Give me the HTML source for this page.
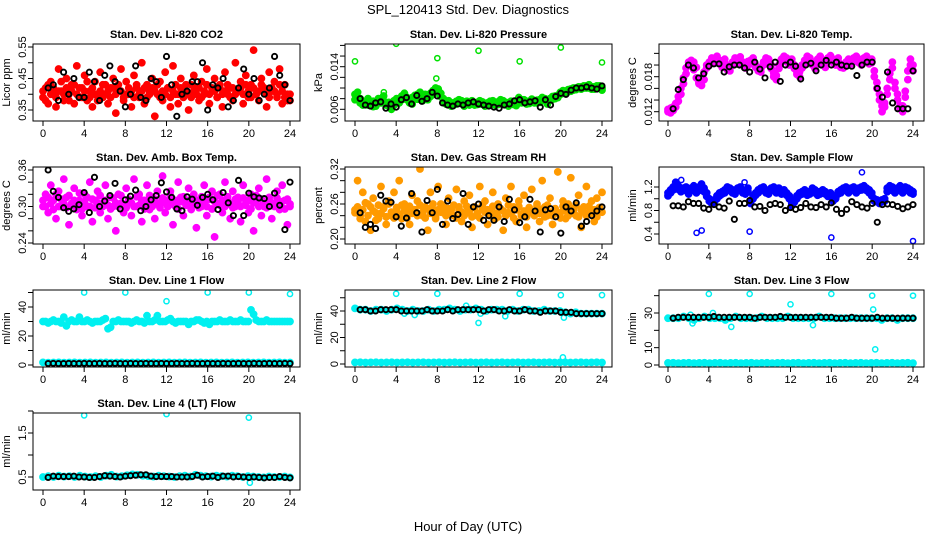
<!DOCTYPE html>
<html><head><meta charset="utf-8"><style>
body{margin:0;background:#fff}
svg{display:block;font-family:"Liberation Sans",sans-serif}
</style></head><body>
<svg id="chart" width="936" height="540" viewBox="0 0 936 540">
<text x="468" y="14" font-size="13" text-anchor="middle">SPL_120413  Std. Dev. Diagnostics</text>
<text x="468" y="531" font-size="13" text-anchor="middle">Hour of Day (UTC)</text>
</svg>
<script>
// ---- data ----
const xTicks=[0,4,8,12,16,20,24];
const co2Red=[0.39,0.42,0.37,0.44,0.40,0.36,0.48,0.41,0.38,0.45,0.40,0.43,0.37,0.49,0.42,0.39,0.46,0.38,0.41,0.36,0.44,0.40,0.47,0.39,0.43,0.37,0.42,0.45,0.34,0.41,0.48,0.38,0.44,0.40,0.36,0.46,0.42,0.39,0.50,0.37,0.43,0.41,0.45,0.33,0.40,0.44,0.38,0.47,0.42,0.36,0.49,0.40,0.37,0.45,0.41,0.43,0.35,0.39,0.46,0.42,0.38,0.44,0.40,0.48,0.37,0.41,0.45,0.39,0.43,0.36,0.47,0.40,0.42,0.38,0.50,0.41,0.44,0.37,0.46,0.39,0.43,0.54,0.40,0.38,0.45,0.42,0.36,0.47,0.41,0.44,0.39,0.48,0.37,0.43,0.40,0.38];
const co2Red2=[0.41,0.38,0.43,0.40,0.42,0.39,0.41,0.44,0.40,0.42,0.38,0.41,0.43,0.40,0.39,0.42,0.41,0.44,0.39,0.42,0.40,0.38,0.41,0.43,0.40,0.41,0.39,0.42,0.40,0.43,0.41,0.39,0.40,0.42,0.41,0.39,0.43,0.40,0.41,0.42,0.39,0.40,0.42,0.41,0.43,0.39,0.41,0.40,0.42,0.39,0.41,0.43,0.40,0.42,0.39,0.41,0.40,0.43,0.41,0.40,0.42,0.39,0.41,0.43,0.40,0.42,0.41,0.39,0.42,0.40,0.41,0.43,0.39,0.42,0.40,0.41,0.42,0.40,0.43,0.41,0.39,0.42,0.40,0.41,0.43,0.42,0.40,0.39,0.42,0.41,0.40,0.43,0.41,0.39,0.38,0.40];
const co2Black=[0.42,0.43,0.38,0.47,0.40,0.45,0.39,0.39,0.47,0.44,0.38,0.46,0.49,0.44,0.41,0.36,0.40,0.49,0.39,0.38,0.45,0.44,0.39,0.52,0.43,0.33,0.40,0.41,0.44,0.44,0.50,0.35,0.43,0.42,0.45,0.36,0.38,0.42,0.48,0.40,0.45,0.38,0.40,0.42,0.52,0.46,0.43,0.38];
const presGreen=[0.0088,0.0092,0.0080,0.0075,0.0070,0.0068,0.0072,0.0065,0.0070,0.0074,0.0079,0.0085,0.0072,0.0066,0.0060,0.0068,
0.0072,0.0078,0.0085,0.0090,0.0082,0.0076,0.0070,0.0080,0.0088,0.0092,0.0085,0.0079,0.0083,0.0090,0.0095,0.0100,
0.0098,0.0090,0.0080,0.0074,0.0070,0.0072,0.0068,0.0075,0.0078,0.0072,0.0066,0.0070,0.0074,0.0071,0.0068,0.0073,
0.0076,0.0070,0.0066,0.0072,0.0075,0.0070,0.0068,0.0074,0.0078,0.0072,0.0069,0.0066,0.0070,0.0073,0.0067,0.0082,
0.0078,0.0073,0.0070,0.0075,0.0079,0.0076,0.0072,0.0078,0.0082,0.0076,0.0070,0.0080,0.0084,0.0080,0.0086,0.0092,
0.0095,0.0090,0.0093,0.0098,0.0096,0.0100,0.0102,0.0098,0.0104,0.0100,0.0106,0.0102,0.0098,0.0104,0.0100,0.0096];
const presGreen2=[0.0078,0.0082,0.0072,0.0068,0.0074,0.0080,0.0070,0.0075,0.0066,0.0080,0.0072,0.0076,0.0068,0.0073,0.0070,0.0076,
0.0080,0.0072,0.0078,0.0084,0.0078,0.0072,0.0082,0.0086,0.0079,0.0083,0.0076,0.0088,0.0078,0.0084,0.0088,0.0092,
0.0090,0.0084,0.0076,0.0070,0.0076,0.0066,0.0072,0.0070,0.0073,0.0076,0.0070,0.0075,0.0068,0.0076,0.0072,0.0069,
0.0070,0.0074,0.0071,0.0068,0.0070,0.0076,0.0072,0.0069,0.0072,0.0076,0.0073,0.0071,0.0075,0.0069,0.0073,0.0076,
0.0072,0.0078,0.0075,0.0071,0.0074,0.0072,0.0077,0.0073,0.0076,0.0080,0.0074,0.0077,0.0079,0.0085,0.0082,0.0088,
0.0090,0.0094,0.0097,0.0094,0.0100,0.0097,0.0099,0.0102,0.0100,0.0104,0.0100,0.0098,0.0102,0.0099,0.0104,0.0100];
const presOutX=[0,4,8,12,16,20,24,2.8,7.9];
const presOutY=[0.0150,0.0183,0.0156,0.0170,0.0150,0.0176,0.0148,0.0092,0.0118];
const presBlack=[0.0080,0.0068,0.0066,0.0072,0.0074,0.0062,0.0070,0.0064,0.0078,0.0082,0.0070,0.0086,0.0075,0.0080,0.0092,0.0085,0.0072,0.0068,0.0066,0.0070,0.0068,0.0072,0.0074,0.0070,0.0068,0.0066,0.0064,0.0062,0.0068,0.0070,0.0076,0.0078,0.0072,0.0074,0.0076,0.0064,0.0078,0.0068,0.0084,0.0090,0.0088,0.0096,0.0100,0.0100,0.0102,0.0100,0.0098,0.0104];
const tempMag=[0.0120,0.0118,0.0122,0.0128,0.0138,0.0150,0.0168,0.0185,
0.0200,0.0208,0.0205,0.0196,0.0170,0.0165,0.0175,0.0195,
0.0205,0.0212,0.0210,0.0215,0.0208,0.0200,0.0210,0.0198,0.0190,0.0205,0.0212,0.0208,0.0214,0.0205,0.0195,0.0200,
0.0208,0.0212,0.0200,0.0195,0.0188,0.0205,0.0212,0.0210,0.0200,0.0180,0.0175,0.0200,0.0210,0.0215,0.0212,0.0205,
0.0210,0.0200,0.0188,0.0180,0.0195,0.0208,0.0215,0.0212,0.0205,0.0198,0.0210,0.0215,0.0208,0.0200,0.0212,0.0216,
0.0210,0.0205,0.0212,0.0200,0.0195,0.0205,0.0210,0.0208,0.0212,0.0215,0.0210,0.0205,0.0212,0.0215,0.0208,0.0210,
0.0190,0.0170,0.0140,0.0120,0.0128,0.0150,0.0185,0.0205,0.0160,0.0150,0.0130,0.0120,0.0145,0.0175,0.0210,0.0200];
const tempMag2=[0.0124,0.0126,0.0128,0.0134,0.0146,0.0160,0.0178,0.0195,
0.0205,0.0200,0.0192,0.0178,0.0168,0.0172,0.0188,0.0200,
0.0200,0.0206,0.0204,0.0208,0.0202,0.0196,0.0204,0.0192,0.0196,0.0200,0.0206,0.0202,0.0208,0.0200,0.0200,0.0206,
0.0202,0.0206,0.0196,0.0190,0.0194,0.0200,0.0206,0.0204,0.0194,0.0186,0.0182,0.0194,0.0204,0.0208,0.0206,0.0200,
0.0204,0.0194,0.0184,0.0188,0.0200,0.0202,0.0208,0.0206,0.0200,0.0194,0.0204,0.0208,0.0202,0.0196,0.0206,0.0210,
0.0204,0.0200,0.0206,0.0196,0.0200,0.0200,0.0204,0.0202,0.0206,0.0208,0.0204,0.0200,0.0206,0.0208,0.0202,0.0204,
0.0180,0.0160,0.0150,0.0130,0.0135,0.0160,0.0175,0.0195,0.0170,0.0140,0.0125,0.0130,0.0155,0.0190,0.0200,0.0190];
const tempBlack=[0.0125,0.0158,0.0175,0.0200,0.0195,0.0178,0.0185,0.0198,0.0202,0.0202,0.0188,0.0197,0.0200,0.0200,0.0195,0.0188,0.0205,0.0193,0.0178,0.0197,0.0205,0.0172,0.0200,0.0205,0.0198,0.0176,0.0200,0.0203,0.0190,0.0200,0.0208,0.0200,0.0205,0.0200,0.0198,0.0198,0.0182,0.0200,0.0205,0.0205,0.0160,0.0145,0.0188,0.0135,0.0125,0.0125,0.0125,0.0190];
const boxMag=[0.300,0.320,0.290,0.335,0.310,0.280,0.325,0.300,0.345,0.315,0.270,0.305,0.330,0.295,0.310,0.285,0.320,0.300,0.340,0.275,0.310,0.325,0.290,0.305,0.335,0.280,0.315,0.300,0.260,0.320,0.305,0.290,0.330,0.310,0.285,0.345,0.300,0.320,0.275,0.310,0.335,0.295,0.315,0.280,0.325,0.305,0.350,0.290,0.310,0.325,0.270,0.300,0.340,0.315,0.285,0.305,0.330,0.295,0.320,0.265,0.310,0.300,0.335,0.285,0.315,0.325,0.250,0.305,0.320,0.290,0.340,0.310,0.280,0.325,0.300,0.315,0.275,0.335,0.305,0.290,0.320,0.260,0.310,0.330,0.285,0.300,0.345,0.315,0.280,0.305,0.325,0.295,0.335,0.310,0.270,0.300];
const boxMag2=[0.310,0.300,0.315,0.305,0.295,0.320,0.300,0.312,0.305,0.298,0.318,0.302,0.310,0.300,0.322,0.296,0.308,0.315,0.300,0.312,0.298,0.306,0.318,0.300,0.310,0.302,0.296,0.314,0.306,0.300,0.318,0.304,0.298,0.312,0.306,0.300,0.316,0.302,0.310,0.296,0.306,0.318,0.300,0.312,0.304,0.298,0.314,0.306,0.300,0.318,0.304,0.310,0.296,0.308,0.316,0.302,0.310,0.300,0.314,0.304,0.298,0.316,0.306,0.300,0.312,0.296,0.308,0.318,0.302,0.310,0.300,0.316,0.304,0.298,0.312,0.306,0.300,0.314,0.302,0.310,0.296,0.306,0.318,0.300,0.312,0.304,0.298,0.310,0.304,0.300,0.314,0.302,0.308,0.296,0.312,0.304];
const boxBlack=[0.360,0.325,0.315,0.298,0.292,0.296,0.303,0.323,0.290,0.348,0.300,0.309,0.318,0.338,0.296,0.311,0.317,0.327,0.293,0.300,0.311,0.318,0.339,0.324,0.315,0.296,0.293,0.316,0.312,0.302,0.315,0.320,0.311,0.295,0.323,0.306,0.285,0.343,0.285,0.322,0.316,0.314,0.313,0.300,0.322,0.302,0.262,0.340];
const rhOrange=[0.250,0.300,0.240,0.280,0.230,0.260,0.215,0.270,0.245,0.235,0.290,0.255,0.225,0.265,0.240,0.280,0.250,0.300,0.235,0.260,0.245,0.225,0.275,0.250,0.265,0.320,0.240,0.255,0.215,0.280,0.250,0.235,0.290,0.260,0.245,0.225,0.270,0.250,0.240,0.285,0.255,0.230,0.265,0.245,0.275,0.220,0.255,0.240,0.290,0.250,0.265,0.225,0.245,0.280,0.235,0.260,0.250,0.215,0.270,0.245,0.290,0.255,0.230,0.265,0.240,0.275,0.220,0.250,0.285,0.245,0.260,0.230,0.300,0.255,0.240,0.270,0.225,0.250,0.315,0.245,0.265,0.235,0.260,0.305,0.250,0.240,0.275,0.220,0.255,0.290,0.245,0.265,0.230,0.270,0.250,0.280];
const rhOrange2=[0.245,0.255,0.235,0.250,0.262,0.240,0.255,0.248,0.232,0.258,0.244,0.252,0.238,0.260,0.246,0.236,0.254,0.242,0.258,0.248,0.236,0.256,0.244,0.250,0.240,0.258,0.246,0.236,0.252,0.244,0.260,0.238,0.250,0.246,0.256,0.240,0.252,0.244,0.258,0.236,0.250,0.246,0.240,0.256,0.248,0.238,0.254,0.244,0.236,0.258,0.246,0.250,0.240,0.256,0.244,0.238,0.252,0.248,0.240,0.258,0.244,0.236,0.250,0.256,0.242,0.248,0.238,0.254,0.246,0.240,0.256,0.244,0.250,0.238,0.258,0.246,0.240,0.252,0.244,0.236,0.256,0.248,0.240,0.252,0.244,0.258,0.238,0.250,0.246,0.240,0.256,0.244,0.250,0.238,0.254,0.246];
const rhBlack=[0.245,0.220,0.225,0.218,0.275,0.265,0.263,0.238,0.222,0.236,0.278,0.245,0.212,0.266,0.245,0.285,0.225,0.265,0.235,0.242,0.278,0.225,0.255,0.260,0.232,0.240,0.232,0.255,0.230,0.268,0.250,0.228,0.238,0.268,0.248,0.212,0.250,0.252,0.238,0.210,0.255,0.248,0.262,0.222,0.230,0.240,0.248,0.255];
const flowBlue=[1.05,1.15,1.20,1.28,1.22,1.15,1.18,1.20,1.12,1.18,1.22,1.15,1.20,1.25,1.18,1.10,
1.00,0.95,0.98,1.05,1.10,1.12,1.15,1.20,1.18,1.15,1.12,1.18,1.20,1.15,1.12,1.18,
0.95,1.05,1.10,1.15,1.18,1.20,1.15,1.12,1.18,1.20,1.15,1.18,1.12,1.15,1.10,1.05,
0.92,0.98,1.05,1.10,1.12,1.15,1.10,1.12,1.18,1.15,1.10,1.12,1.15,1.12,1.08,1.10,
1.00,1.05,1.12,1.15,1.18,1.20,1.15,1.18,1.20,1.15,1.18,1.20,1.22,1.18,1.15,1.10,
1.00,0.98,0.95,0.98,1.00,1.18,1.22,1.20,1.15,1.18,1.22,1.15,1.20,1.18,1.15,1.12];
const flowBlue2=[1.10,1.10,1.15,1.20,1.16,1.12,1.14,1.16,1.08,1.14,1.16,1.10,1.14,1.18,1.12,1.04,
0.96,0.92,0.95,1.00,1.05,1.08,1.10,1.15,1.14,1.10,1.08,1.14,1.15,1.10,1.08,1.12,
0.92,1.00,1.06,1.10,1.14,1.15,1.10,1.08,1.14,1.15,1.10,1.14,1.08,1.10,1.06,1.00,
0.88,0.94,1.00,1.06,1.08,1.10,1.06,1.08,1.14,1.10,1.06,1.08,1.10,1.08,1.04,1.05,
0.96,1.00,1.08,1.10,1.14,1.15,1.10,1.14,1.15,1.10,1.14,1.15,1.16,1.14,1.10,1.05,
0.96,0.95,0.92,0.95,0.96,1.12,1.16,1.14,1.10,1.14,1.16,1.10,1.15,1.14,1.10,1.08];
const flowOutX=[1.3,2.8,3.3,7.5,8,16,19,24];
const flowOutY=[1.32,0.42,0.46,1.28,0.44,0.34,1.45,0.28];
const flowBlack=[0.88,0.88,0.86,0.95,0.92,0.92,0.84,0.82,0.90,0.86,0.84,0.96,0.65,0.92,0.92,0.97,0.86,0.87,0.80,0.90,0.92,0.90,0.80,0.85,0.82,0.85,0.92,0.86,0.85,0.90,0.86,0.93,0.82,0.75,0.82,0.95,0.90,0.86,0.84,0.92,0.60,0.90,0.91,0.90,0.87,0.83,0.86,0.90];
const l1Cyan=[30,30,29,30,31,30,30,29,33,27,30,31,30,30,33,30,30,31,30,29,30,30,30,31,32,25,26,30,30,31,30,30,30,30,29,30,31,30,30,29,34,30,30,31,34,30,30,30,31,32,30,29,30,30,30,30,28,30,30,31,31,30,29,30,28,30,30,30,31,30,30,30,31,30,30,30,31,30,30,30,38,35,31,30,30,30,31,30,30,30,30,30,30,30,30,30];
const l1CyanLow=[1.8,1.6,1.7,1.8,1.6,1.7,1.8,1.6,1.7,1.8,1.6,1.7,1.8,1.6,1.7,1.8,1.6,1.7,1.8,1.6,1.7,1.8,1.6,1.7,1.8,1.6,1.7,1.8,1.6,1.7,1.8,1.6,1.7,1.8,1.6,1.7,1.8,1.6,1.7,1.8,1.6,1.7,1.8,1.6,1.7,1.8,1.6,1.7];
const l1OutX=[4,8,12,16,20,24];
const l1OutY=[50,50,44,50,50,49];
const l1Black=[1.0,1.1,1.0,1.0,1.1,1.0,1.0,1.1,1.0,1.0,1.1,1.0,1.0,1.1,1.0,1.0,1.1,1.0,1.0,1.1,1.0,1.0,1.1,1.0,1.0,1.1,1.0,1.0,1.1,1.0,1.0,1.1,1.0,1.0,1.1,1.0,1.0,1.1,1.0,1.0,1.1,1.0,1.0,1.1,1.0,1.0,1.1,1.0];
const l2Cyan=[42,41,41,40,41,41,40,41,42,41,40,41,40,40,41,40,41,41,42,41,40,41,41,42,41,40,41,41,41,40,41,40,41,41,40,40,41,40,40,40,39,38,39,38,38,38,38,38];
const l2CyanLow=[1.2,1.3,1.1,1.2,1.3,1.1,1.2,1.3,1.1,1.2,1.3,1.1,1.2,1.3,1.1,1.2,1.3,1.1,1.2,1.3,1.1,1.2,1.3,1.1,1.2,1.3,1.1,1.2,1.3,1.1,1.2,1.3,1.1,1.2,1.3,1.1,1.2,1.3,1.1,1.2,1.3,1.1,1.2,1.3,1.1,1.2,1.3,1.1];
const l2OutX=[0,4,8,12,16,20,20.2,24,12.2,4.8,5.8,14.6,10.8,20.3];
const l2OutY=[42,53,53,31,53,52,5,52,38,38,37,36,44,35];
const l2Black=[41,41,40,40,41,41,41,41,40,40,40,40,40,41,40,40,40,41,40,41,41,41,41,41,40,41,41,40,40,41,40,40,41,40,40,39,40,40,40,39,39,39,38,38,38,38,38,38];
const l3Cyan=[27,27,27,28,27,26,27,28,27,27,27,26,27,28,27,27,27,27,28,27,27,27,27,28,27,27,27,27,27,28,27,27,27,27,27,27,27,27,27,27,27,26,27,27,26,27,27,27];
const l3CyanLow=[1.2,1.3,1.1,1.2,1.3,1.1,1.2,1.3,1.1,1.2,1.3,1.1,1.2,1.3,1.1,1.2,1.3,1.1,1.2,1.3,1.1,1.2,1.3,1.1,1.2,1.3,1.1,1.2,1.3,1.1,1.2,1.3,1.1,1.2,1.3,1.1,1.2,1.3,1.1,1.2,1.3,1.1,1.2,1.3,1.1,1.2,1.3,1.1];
const l3OutX=[4,8,12,16,20,24,20.1,20.3,2.2,4.4,6.2,14.2,2.4];
const l3OutY=[41,41,35,41,40,40,32,9,29,30,22,23,24];
const l3Black=[27,27.5,27.5,27.5,27.5,27.5,27.5,27.5,28,27.5,27.5,27.5,27.5,27.5,27.5,27.5,27,27.5,27.5,27.5,27.5,28,27.5,27.5,27.5,27.5,27.5,27.5,27.5,27.5,27.5,27.5,27,27,27,27.5,27,27,27,27,27.5,27,27,27,27,27,27,27];
const l4Cyan=[0.50,0.52,0.50,0.53,0.51,0.52,0.50,0.53,0.51,0.50,0.52,0.50,0.53,0.55,0.51,0.52,0.54,0.56,0.55,0.53,0.52,0.51,0.53,0.52,0.51,0.50,0.52,0.53,0.51,0.55,0.53,0.52,0.51,0.53,0.52,0.51,0.53,0.52,0.50,0.52,0.51,0.50,0.49,0.51,0.50,0.50,0.51,0.49];
const l4OutX=[4,12,20,20.1];
const l4OutY=[1.9,1.93,1.85,0.37];
const l4Black=[0.49,0.52,0.51,0.51,0.51,0.52,0.50,0.50,0.49,0.49,0.51,0.53,0.52,0.51,0.50,0.52,0.53,0.54,0.55,0.55,0.52,0.51,0.51,0.51,0.51,0.50,0.50,0.50,0.51,0.54,0.50,0.51,0.52,0.49,0.52,0.52,0.50,0.51,0.50,0.49,0.50,0.49,0.48,0.49,0.49,0.51,0.49,0.48];

// ---- layout ----
const colL=[33,345,659], colR=[300,612,924], col0=[43,355,668], col24=[290,602,913];
const rowT=[44,167,290,413], rowB=[121,244,367,490];
const panels=[
 {id:'co2',title:'Stan. Dev. Li-820 CO2',ylab:'Licor ppm',c:0,r:0,a:[0.35,110],b:[0.55,47],ticks:[0.35,0.40,0.45,0.50,0.55],labs:['0.35','0.45','0.55'],labV:[0.35,0.45,0.55],
  series:[{v:co2Red2,col:'#ff0000'},{v:co2Red,col:'#ff0000'}],out:[],blk:co2Black},
 {id:'pressure',title:'Stan. Dev. Li-820 Pressure',ylab:'kPa',c:1,r:0,a:[0.006,109.3],b:[0.014,66.7],ticks:[0.006,0.008,0.010,0.012,0.014,0.016,0.018],labs:['0.006','0.014'],labV:[0.006,0.014],
  series:[{v:presGreen,col:'#00e000'},{v:presGreen2,col:'#00e000'}],out:[{x:presOutX,y:presOutY,col:'#00e000'}],blk:presBlack},
 {id:'temp',title:'Stan. Dev. Li-820 Temp.',ylab:'degrees C',c:2,r:0,a:[0.012,111.7],b:[0.018,76.7],ticks:[0.012,0.014,0.016,0.018,0.020,0.022],labs:['0.012','0.018'],labV:[0.012,0.018],
  series:[{v:tempMag,col:'#ff00ff'},{v:tempMag2,col:'#ff00ff'}],out:[],blk:tempBlack},
 {id:'ambbox',title:'Stan. Dev. Amb. Box Temp.',ylab:'degrees C',c:0,r:1,a:[0.24,243],b:[0.36,170],ticks:[0.24,0.26,0.28,0.30,0.32,0.34,0.36],labs:['0.24','0.30','0.36'],labV:[0.24,0.30,0.36],
  series:[{v:boxMag2,col:'#ff00ff'},{v:boxMag,col:'#ff00ff'}],out:[],blk:boxBlack},
 {id:'rh',title:'Stan. Dev. Gas Stream RH',ylab:'percent',c:1,r:1,a:[0.20,239],b:[0.32,169],ticks:[0.20,0.22,0.24,0.26,0.28,0.30,0.32],labs:['0.20','0.26','0.32'],labV:[0.20,0.26,0.32],
  series:[{v:rhOrange2,col:'#ff9a00'},{v:rhOrange,col:'#ff9a00'}],out:[],blk:rhBlack},
 {id:'sampleflow',title:'Stan. Dev. Sample Flow',ylab:'ml/min',c:2,r:1,a:[0.4,234],b:[1.2,187],ticks:[0.4,0.6,0.8,1.0,1.2],labs:['0.4','0.8','1.2'],labV:[0.4,0.8,1.2],
  series:[{v:flowBlue,col:'#0000ff'},{v:flowBlue2,col:'#0000ff'}],out:[{x:flowOutX,y:flowOutY,col:'#0000ff'}],blk:flowBlack},
 {id:'line1',title:'Stan. Dev. Line 1 Flow',ylab:'ml/min',c:0,r:2,a:[0,365],b:[40,307],ticks:[0,10,20,30,40,50],labs:['0','20','40'],labV:[0,20,40],
  series:[{v:l1Cyan,col:'#00f0f0'},{v:l1CyanLow,col:'#00f0f0'}],out:[{x:l1OutX,y:l1OutY,col:'#00f0f0'}],blk:l1Black},
 {id:'line2',title:'Stan. Dev. Line 2 Flow',ylab:'ml/min',c:1,r:2,a:[0,364],b:[40,311],ticks:[0,10,20,30,40,50],labs:['0','20','40'],labV:[0,20,40],
  series:[{v:l2Cyan,col:'#00f0f0'},{v:l2CyanLow,col:'#00f0f0'}],out:[{x:l2OutX,y:l2OutY,col:'#00f0f0'}],blk:l2Black},
 {id:'line3',title:'Stan. Dev. Line 3 Flow',ylab:'ml/min',c:2,r:2,a:[0,365],b:[30,313],ticks:[0,10,20,30,40],labs:['0','10','30'],labV:[0,10,30],
  series:[{v:l3Cyan,col:'#00f0f0'},{v:l3CyanLow,col:'#00f0f0'}],out:[{x:l3OutX,y:l3OutY,col:'#00f0f0'}],blk:l3Black},
 {id:'line4',title:'Stan. Dev. Line 4 (LT) Flow',ylab:'ml/min',c:0,r:3,a:[0.5,477],b:[1.5,433],ticks:[0.5,1.0,1.5,2.0],labs:['0.5','1.5'],labV:[0.5,1.5],
  series:[{v:l4Cyan,col:'#00f0f0'}],out:[{x:l4OutX,y:l4OutY,col:'#00f0f0'}],blk:l4Black}
];

const NS='http://www.w3.org/2000/svg';
const svg=document.getElementById('chart');
function mk(tag,attrs,parent){const e=document.createElementNS(NS,tag);for(const k in attrs)e.setAttribute(k,attrs[k]);parent.appendChild(e);return e;}

panels.forEach(p=>{
  const L=colL[p.c],R=colR[p.c],T=rowT[p.r],B=rowB[p.r];
  const xs=h=>col0[p.c]+h*(col24[p.c]-col0[p.c])/24;
  const ys=v=>p.a[1]+(v-p.a[0])*(p.b[1]-p.a[1])/(p.b[0]-p.a[0]);
  const g=mk('g',{},svg);
  
  
  const t=mk('text',{x:(L+R)/2,y:T-6,'font-size':11,'font-weight':'bold','text-anchor':'middle'},g);
  t.textContent=p.title;
  
  
  const clipId='clip-'+p.id;
  const cp=mk('clipPath',{id:clipId},g);
  mk('rect',{x:L,y:T,width:R-L,height:B-T},cp);
  const pts=mk('g',{'clip-path':'url(#'+clipId+')'},g);
  
  
  p.series.forEach(s=>{
    const n=s.v.length;
    s.v.forEach((v,i)=>{
      const c=mk('circle',{cx:xs(i*24/(n-1)),cy:ys(v),r:3,stroke:s.col,'stroke-width':1.8,fill:s.col},pts);
      
      
    });
  });
  p.out.forEach(o=>{
    o.x.forEach((x,i)=>{
      const c=mk('circle',{cx:xs(x),cy:ys(o.y[i]),r:2.6,stroke:o.col,'stroke-width':1.5,fill:'none'},pts);
      
      
    });
  });
  p.blk.forEach((v,i)=>{
    const c=mk('circle',{cx:xs(0.5+i*0.5),cy:ys(v),r:2.6,stroke:'#000','stroke-width':1.9,fill:'none'},pts);
    
    
  });
  const box=mk('rect',{x:L,y:T,width:R-L,height:B-T,fill:'none',stroke:'#000','stroke-width':1},g);
  
  
  const xa=mk('g',{stroke:'#000','stroke-width':1},g);
  
  
  mk('line',{x1:xs(0),x2:xs(24),y1:B,y2:B},xa);
  xTicks.forEach(h=>{
    mk('line',{x1:xs(h),x2:xs(h),y1:B,y2:B+5},xa);
    const tl=mk('text',{x:xs(h),y:B+16,'font-size':11,'text-anchor':'middle',stroke:'none',fill:'#000'},xa);
    tl.textContent=h;
    
    
  });
  const ya=mk('g',{stroke:'#000','stroke-width':1},g);
  
  
  mk('line',{x1:L,x2:L,y1:ys(p.ticks[0]),y2:ys(p.ticks[p.ticks.length-1])},ya);
  p.ticks.forEach(v=>{mk('line',{x1:L-5,x2:L,y1:ys(v),y2:ys(v)},ya);});
  p.labs.forEach((lab,i)=>{
    const y=ys(p.labV[i]);
    const tl=mk('text',{x:L-7,y:y,'font-size':11,'text-anchor':'middle',stroke:'none',fill:'#000',transform:'rotate(-90 '+(L-7)+' '+y+')'},ya);
    tl.textContent=lab;
    
    
  });
  const yt=mk('text',{x:L-23,y:(T+B)/2,'font-size':11,'text-anchor':'middle',transform:'rotate(-90 '+(L-23)+' '+((T+B)/2)+')'},g);
  yt.textContent=p.ylab;
  
  
});
</script>
</body></html>
